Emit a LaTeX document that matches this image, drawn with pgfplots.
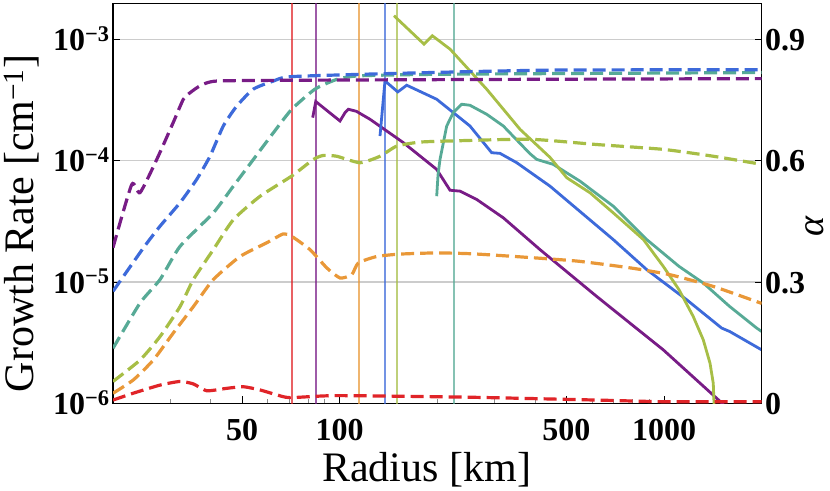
\documentclass[border=0pt]{standalone}
\usepackage{pgfplots}
\pgfplotsset{compat=1.18}
\usepackage{fontspec}
\setmainfont{Liberation Serif}
\definecolor{cpur}{HTML}{781C86}
\definecolor{cblu}{HTML}{3D6ADA}
\definecolor{ctea}{HTML}{57AA96}
\definecolor{cyg}{HTML}{A7BE46}
\definecolor{cora}{HTML}{E99838}
\definecolor{cred}{HTML}{E02428}
\pgfplotsset{
  mysol/.style={line width=2.8pt, no marks},
  mydas/.style={line width=3.2pt, no marks, dash pattern=on 13pt off 6pt, smooth, tension=0.35},
  myvl/.style={line width=1.8pt, no marks, opacity=0.72},
}
\begin{document}
\begin{tikzpicture}
\begin{axis}[
  scale only axis, width=648.7pt, height=400pt,
  xmode=log, xmin=20, xmax=2000,
  tick align=inside,
  major tick length=7pt, minor tick length=4pt,
  major tick style={black, line width=1pt},
  minor tick style={black!45, line width=1pt},
  tick label style={font=\fontsize{32}{36}\selectfont\bfseries},
  axis line style={line width=1.3pt},
  ymode=log, ymin=1e-6, ymax=1.984e-3,
  xtick={50,100,500,1000}, xticklabels={50,100,500,1000},
  minor xtick={30,40,60,70,80,90,200,300,400,600,700,800,900},
  xtick pos=bottom, ytick pos=left,
  ytick={1e-6,1e-5,1e-4,1e-3},
  yticklabels={10\textsuperscript{−6},10\textsuperscript{−5},10\textsuperscript{−4},10\textsuperscript{−3}},
  minor y tick style={draw=none},
  ymajorgrids, grid style={draw=black!20, line width=1.5pt},
  xticklabel style={anchor=base, yshift=-36.7pt},
  yticklabel style={anchor=base east, yshift=-11pt},
  xlabel={Radius [km]},
  ylabel={Growth Rate [cm\textsuperscript{−1}]},
  every axis x label/.style={at={(axis description cs:0.4836,-0.196)}, anchor=base, font=\fontsize{42}{48}\selectfont},
  every axis y label/.style={at={(axis description cs:-0.1233,0.4495)}, anchor=base, rotate=90, font=\fontsize{42}{48}\selectfont},
]
% vertical lines
\addplot[myvl, cred] coordinates {(71.1,1e-7) (71.1,1e-2)};
\addplot[myvl, cpur] coordinates {(84.4,1e-7) (84.4,1e-2)};
\addplot[myvl, cora] coordinates {(114.6,1e-7) (114.6,1e-2)};
\addplot[myvl, cblu] coordinates {(137.9,1e-7) (137.9,1e-2)};
\addplot[myvl, cyg] coordinates {(150.4,1e-7) (150.4,1e-2)};
\addplot[myvl, ctea] coordinates {(225.4,1e-7) (225.4,1e-2)};
% solid growth rates
\addplot[mysol, cpur] coordinates {(82.55,2.266e-4) (84.35,3.074e-4) (100.2,2.125e-4) (104.0,2.506e-4) (106.3,2.655e-4) (112.5,2.555e-4) (124.0,2.195e-4) (157.1,1.409e-4) (199.1,8.476e-5) (218.8,5.71e-5) (234.9,5.61e-5) (264.5,4.79e-5) (319.5,3.38e-5) (414.5,1.849e-5) (620,7.6e-6) (994.6,2.757e-6) (1505,1.01e-6) (1530,0.96e-6)};
\addplot[mysol, cblu] coordinates {(133.1,1.597e-4) (137.9,4.548e-4) (151.0,3.69e-4) (160.9,4.19e-4) (199.1,3.21e-4) (252.1,1.932e-4) (294.1,1.164e-4) (312.1,1.149e-4) (351.3,9.63e-5) (444.9,6.17e-5) (697.3,2.237e-5) (884.4,1.264e-5) (1174,7.14e-6) (1505,4.17e-6) (1593,3.91e-6) (2000,2.757e-6)};
\addplot[mysol, ctea] coordinates {(199.1,5.097e-5) (201,7.7e-5) (203.8,1.025e-4) (213.7,1.932e-4) (224,2.492e-4) (237.7,2.92e-4) (252.1,2.864e-4) (283.9,2.413e-4) (319.5,1.932e-4) (385,1.15e-4) (404.9,1.025e-4) (455.5,9.32e-5) (550.6,6.78e-5) (697.3,4.215e-5) (884.4,2.237e-5) (1112,1.345e-5) (1321,9.81e-6) (1593,6.285e-6) (1930,4.17e-6) (2000,3.91e-6)};
\addplot[mysol, cyg] coordinates {(147.0,1.567e-3) (181.9,9.146e-4) (193.0,1.071e-3) (218.8,8.317e-4) (283.9,3.884e-4) (359.7,1.814e-4) (444.9,1.065e-4) (501.1,7.237e-5) (591.1,5.438e-5) (697.3,3.716e-5) (863.6,2.237e-5) (994.6,1.345e-5) (1112,8.637e-6) (1230,5.196e-6) (1321,3.335e-6) (1385.6,2.141e-6) (1418,1.463e-6) (1425.6,1e-6) (1427,0.9e-6)};
\end{axis}
\begin{axis}[
  scale only axis, width=648.7pt, height=400pt,
  xmode=log, xmin=20, xmax=2000,
  tick align=inside,
  major tick length=7pt,
  major tick style={black, line width=1pt},
  tick label style={font=\fontsize{32}{36}\selectfont\bfseries},
  axis line style={line width=1.3pt},
  ymin=0, ymax=0.9893,
  axis x line=none, axis y line*=right,
  ytick={0,0.3,0.6,0.9}, yticklabels={0,0.3,0.6,0.9},
  yticklabel style={anchor=base west, yshift=-11pt},
  ylabel={\itshape α},
  every axis y label/.style={at={(axis description cs:1.0955,0.4408)}, anchor=base, rotate=90, inner sep=0pt, font=\fontsize{38}{44}\selectfont},
]
\addplot[mydas, cred] coordinates {(20,0.008) (23.10,0.025) (27.92,0.045) (32.18,0.054) (35.37,0.048) (38.9,0.031) (44.84,0.037) (50.44,0.041) (56.8,0.033) (63.9,0.021) (70.3,0.014) (97.9,0.019) (252.1,0.015) (620,0.008) (994.6,0.004) (2000,0.004)};
\addplot[mydas, cora] coordinates {(20,0.0248) (23.10,0.0578) (26.62,0.107) (30.69,0.174) (35.37,0.239) (40.76,0.306) (49.27,0.363) (59.56,0.397) (66.99,0.419) (71.1,0.413) (81.0,0.380) (91.2,0.335) (100.2,0.310) (108.9,0.318) (114.1,0.347) (130.0,0.363) (153.4,0.369) (199.1,0.372) (252.1,0.370) (319.5,0.365) (444.9,0.357) (550.6,0.351) (785.3,0.335) (1043,0.318) (1418.6,0.289) (2000,0.247)};
\addplot[mydas, cyg] coordinates {(20,0.054) (24.23,0.107) (27.92,0.165) (32.18,0.239) (35.37,0.306) (40.76,0.380) (46.98,0.454) (56.8,0.512) (71.1,0.562) (82.9,0.603) (89.0,0.613) (97.9,0.611) (115.5,0.595) (133.1,0.611) (149.8,0.636) (176.8,0.646) (224,0.649) (386,0.653) (620,0.640) (994.6,0.628) (1418.6,0.611) (2000,0.591)};
\addplot[mydas, ctea] coordinates {(20,0.136) (24.23,0.248) (27.92,0.306) (32.18,0.388) (40.76,0.471) (46.98,0.537) (54.16,0.603) (62.42,0.669) (71.1,0.727) (83.9,0.777) (97.9,0.801) (115.5,0.810) (218.8,0.814) (2000,0.818)};
\addplot[mydas, cblu] coordinates {(20,0.277) (24.80,0.384) (27.92,0.438) (32.18,0.496) (36.24,0.554) (39.82,0.611) (43.77,0.686) (48.13,0.735) (54.16,0.777) (62.42,0.797) (71.1,0.808) (149.8,0.816) (444.9,0.824) (2000,0.825)};
\addplot[mydas, cpur] coordinates {(20,0.385) (22.84,0.541) (24.23,0.521) (27.28,0.603) (30.69,0.695) (32.95,0.752) (34.55,0.768) (37.1,0.785) (41.76,0.797) (75.4,0.799) (300,0.801) (2000,0.803)};
\end{axis}
\pgfresetboundingbox
\useasboundingbox (-113pt,-86.7pt) rectangle (717pt,403.3pt);
\end{tikzpicture}
\end{document}
